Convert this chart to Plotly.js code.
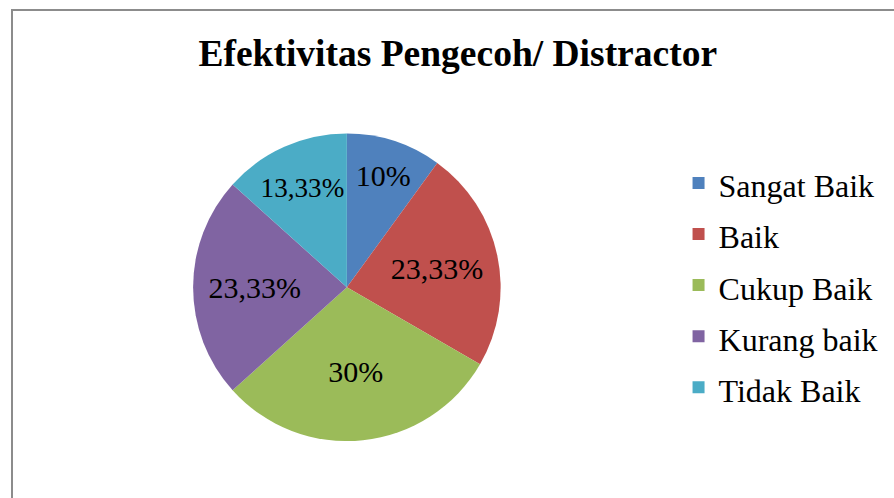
<!DOCTYPE html>
<html>
<head>
<meta charset="utf-8">
<script src="https://cdn.plot.ly/plotly-3.0.1.min.js"></script>
<style>
  html, body { margin: 0; padding: 0; overflow: hidden; background: #fff; }
  #wrap { position: relative; width: 894px; height: 498px; }
  #chart { position: absolute; left: 0; top: 0; width: 894px; height: 498px; }
  #frame { position: absolute; left: 11px; top: 9px; width: 900px; height: 500px;
           border-left: 2px solid #8c8c8c; border-top: 2px solid #8c8c8c; pointer-events: none; }
</style>
</head>
<body>
<div id="wrap">
  <div id="chart"></div>
  <div id="frame"></div>
</div>
<script>
const categories = ["Sangat Baik", "Baik", "Cukup Baik", "Kurang baik", "Tidak Baik"];
const percentages = [10, 23.33, 30, 23.33, 13.33];
const sliceColors = ["#4F81BD", "#C0504D", "#9BBB59", "#8064A2", "#4BACC6"];
const chartTitle = "Efektivitas Pengecoh/ Distractor";

const SERIF = 'Liberation Serif';
const sliceText = percentages.map(v => String(v).replace('.', ',') + '%');
const legendLabels = categories.map(c => '<span style="font-size:32px">' + c + '</span>');

const trace = {
  type: 'pie',
  labels: legendLabels,
  values: percentages,
  text: sliceText,
  textinfo: 'text',
  textposition: 'inside',
  insidetextorientation: 'horizontal',
  textfont: { family: SERIF, size: 30, color: '#000' },
  sort: false,
  direction: 'clockwise',
  rotation: 0,
  marker: { colors: sliceColors, line: { width: 0 } },
  domain: { x: [0.216, 0.560], y: [0.114, 0.732] },
  hoverinfo: 'label+text'
};

const layout = {
  width: 894,
  height: 498,
  margin: { l: 0, r: 0, t: 0, b: 0 },
  paper_bgcolor: '#ffffff',
  plot_bgcolor: '#ffffff',
  font: { family: SERIF, color: '#000' },
  title: {
    text: '<b>' + chartTitle + '</b>',
    font: { family: SERIF, size: 37.5, color: '#000' },
    x: 0.512, xanchor: 'center',
    y: 0.894, yanchor: 'middle'
  },
  showlegend: true,
  legend: {
    font: { family: SERIF, size: 37, color: '#000' },
    x: 0.759, xanchor: 'left',
    y: 0.427, yanchor: 'middle',
    bgcolor: 'rgba(0,0,0,0)'
  }
};

Plotly.newPlot('chart', [trace], layout, { displayModeBar: false, staticPlot: true });
</script>
</body>
</html>
